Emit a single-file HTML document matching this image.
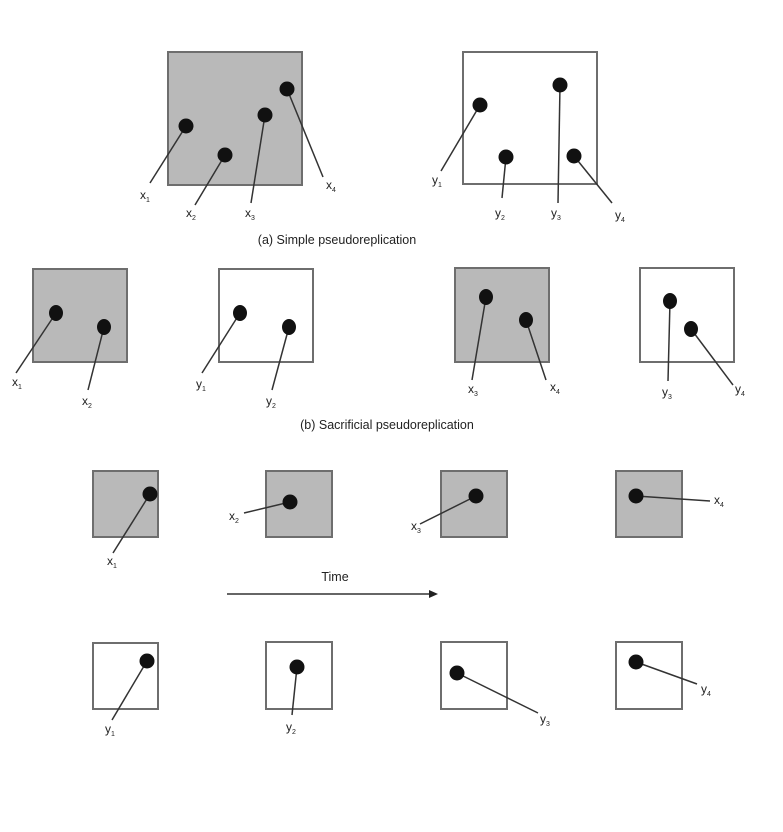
<!DOCTYPE html>
<html><head><meta charset="utf-8"><style>
html,body{margin:0;padding:0;background:#fff;}
svg{display:block;}
text{font-family:"Liberation Sans",sans-serif;fill:#222;}
</style></head><body>
<svg width="783" height="832" viewBox="0 0 783 832" xmlns="http://www.w3.org/2000/svg">
<g stroke="#6e6e6e" stroke-width="2">
<rect x="168" y="52" width="134" height="133" fill="#b9b9b9"/>
<rect x="463" y="52" width="134" height="132" fill="#fff"/>
<rect x="33" y="269" width="94" height="93" fill="#b9b9b9"/>
<rect x="219" y="269" width="94" height="93" fill="#fff"/>
<rect x="455" y="268" width="94" height="94" fill="#b9b9b9"/>
<rect x="640" y="268" width="94" height="94" fill="#fff"/>
<rect x="93" y="471" width="65" height="66" fill="#b9b9b9"/>
<rect x="266" y="471" width="66" height="66" fill="#b9b9b9"/>
<rect x="441" y="471" width="66" height="66" fill="#b9b9b9"/>
<rect x="616" y="471" width="66" height="66" fill="#b9b9b9"/>
<rect x="93" y="643" width="65" height="66" fill="#fff"/>
<rect x="266" y="642" width="66" height="67" fill="#fff"/>
<rect x="441" y="642" width="66" height="67" fill="#fff"/>
<rect x="616" y="642" width="66" height="67" fill="#fff"/>
</g>
<g stroke="#333" stroke-width="1.5">
<line x1="186" y1="126" x2="150" y2="183"/>
<line x1="225" y1="155" x2="195" y2="205"/>
<line x1="265" y1="115" x2="251" y2="203"/>
<line x1="287" y1="89" x2="323" y2="177"/>
<line x1="480" y1="105" x2="441" y2="171"/>
<line x1="506" y1="157" x2="502" y2="198"/>
<line x1="560" y1="85" x2="558" y2="203"/>
<line x1="574" y1="156" x2="612" y2="203"/>
<line x1="56" y1="313" x2="16" y2="373"/>
<line x1="104" y1="327" x2="88" y2="390"/>
<line x1="240" y1="313" x2="202" y2="373"/>
<line x1="289" y1="327" x2="272" y2="390"/>
<line x1="486" y1="297" x2="472" y2="380"/>
<line x1="526" y1="320" x2="546" y2="380"/>
<line x1="670" y1="301" x2="668" y2="381"/>
<line x1="691" y1="329" x2="733" y2="385"/>
<line x1="150" y1="494" x2="113" y2="553"/>
<line x1="290" y1="502" x2="244" y2="513"/>
<line x1="476" y1="496" x2="420" y2="524"/>
<line x1="636" y1="496" x2="710" y2="501"/>
<line x1="147" y1="661" x2="112" y2="720"/>
<line x1="297" y1="667" x2="292" y2="715"/>
<line x1="457" y1="673" x2="538" y2="713"/>
<line x1="636" y1="662" x2="697" y2="684"/>
<line x1="227" y1="594" x2="430" y2="594"/>
</g>
<polygon points="438,594 429,590 429,598" fill="#222"/>
<g fill="#111">
<circle cx="186" cy="126" r="7.5"/><circle cx="225" cy="155" r="7.5"/><circle cx="265" cy="115" r="7.5"/><circle cx="287" cy="89" r="7.5"/>
<circle cx="480" cy="105" r="7.5"/><circle cx="506" cy="157" r="7.5"/><circle cx="560" cy="85" r="7.5"/><circle cx="574" cy="156" r="7.5"/>
<ellipse cx="56" cy="313" rx="7" ry="8"/><ellipse cx="104" cy="327" rx="7" ry="8"/>
<ellipse cx="240" cy="313" rx="7" ry="8"/><ellipse cx="289" cy="327" rx="7" ry="8"/>
<ellipse cx="486" cy="297" rx="7" ry="8"/><ellipse cx="526" cy="320" rx="7" ry="8"/>
<ellipse cx="670" cy="301" rx="7" ry="8"/><ellipse cx="691" cy="329" rx="7" ry="8"/>
<circle cx="150" cy="494" r="7.5"/><circle cx="290" cy="502" r="7.5"/><circle cx="476" cy="496" r="7.5"/><circle cx="636" cy="496" r="7.5"/>
<circle cx="147" cy="661" r="7.5"/><circle cx="297" cy="667" r="7.5"/><circle cx="457" cy="673" r="7.5"/><circle cx="636" cy="662" r="7.5"/>
</g>
<g font-size="12">
<text x="140" y="199">x<tspan font-size="7" dy="3">1</tspan></text>
<text x="186" y="217">x<tspan font-size="7" dy="3">2</tspan></text>
<text x="245" y="217">x<tspan font-size="7" dy="3">3</tspan></text>
<text x="326" y="189">x<tspan font-size="7" dy="3">4</tspan></text>
<text x="432" y="184">y<tspan font-size="7" dy="3">1</tspan></text>
<text x="495" y="217">y<tspan font-size="7" dy="3">2</tspan></text>
<text x="551" y="217">y<tspan font-size="7" dy="3">3</tspan></text>
<text x="615" y="219">y<tspan font-size="7" dy="3">4</tspan></text>
<text x="12" y="386">x<tspan font-size="7" dy="3">1</tspan></text>
<text x="82" y="405">x<tspan font-size="7" dy="3">2</tspan></text>
<text x="196" y="388">y<tspan font-size="7" dy="3">1</tspan></text>
<text x="266" y="405">y<tspan font-size="7" dy="3">2</tspan></text>
<text x="468" y="393">x<tspan font-size="7" dy="3">3</tspan></text>
<text x="550" y="391">x<tspan font-size="7" dy="3">4</tspan></text>
<text x="662" y="396">y<tspan font-size="7" dy="3">3</tspan></text>
<text x="735" y="393">y<tspan font-size="7" dy="3">4</tspan></text>
<text x="107" y="565">x<tspan font-size="7" dy="3">1</tspan></text>
<text x="229" y="520">x<tspan font-size="7" dy="3">2</tspan></text>
<text x="411" y="530">x<tspan font-size="7" dy="3">3</tspan></text>
<text x="714" y="504">x<tspan font-size="7" dy="3">4</tspan></text>
<text x="105" y="733">y<tspan font-size="7" dy="3">1</tspan></text>
<text x="286" y="731">y<tspan font-size="7" dy="3">2</tspan></text>
<text x="540" y="723">y<tspan font-size="7" dy="3">3</tspan></text>
<text x="701" y="693">y<tspan font-size="7" dy="3">4</tspan></text>
</g>
<g font-size="12.5" text-anchor="middle">
<text x="337" y="244">(a) Simple pseudoreplication</text>
<text x="387" y="429">(b) Sacrificial pseudoreplication</text>
<text x="335" y="581">Time</text>
</g>
</svg>
</body></html>
